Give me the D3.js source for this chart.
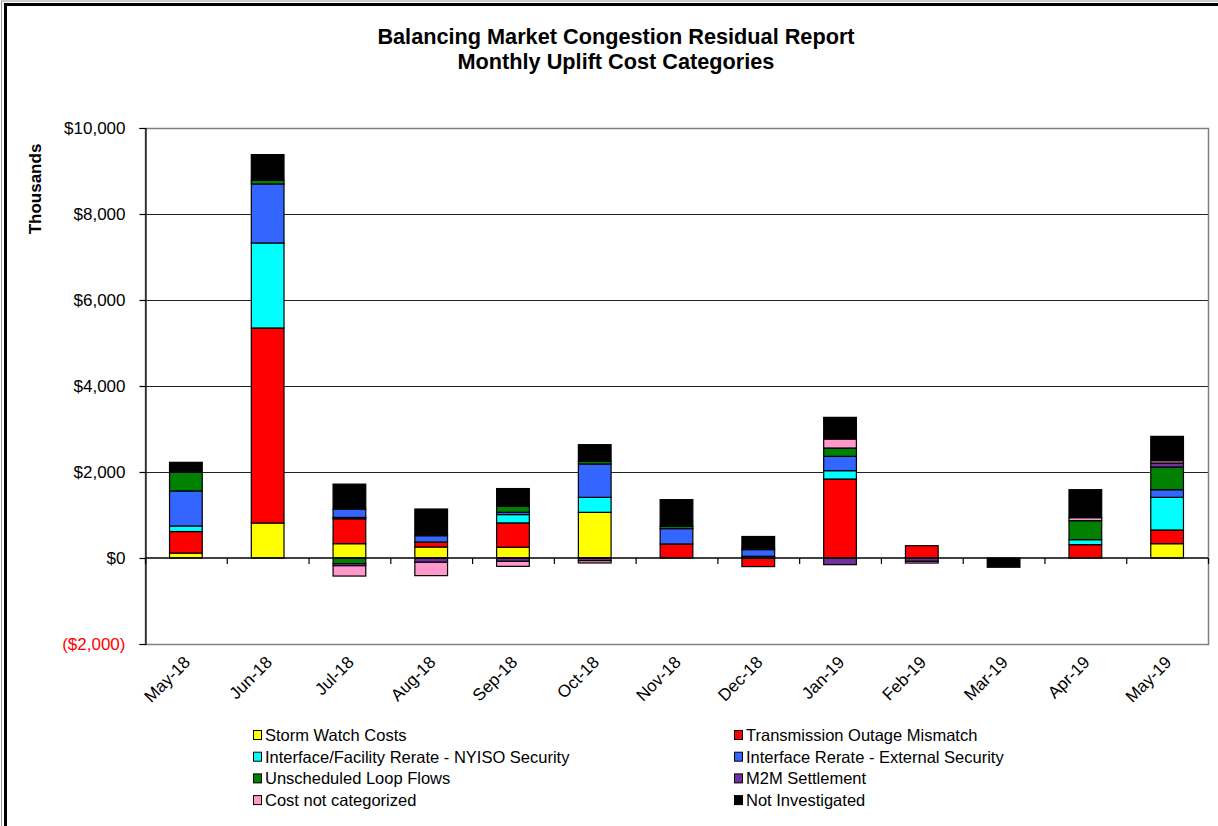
<!DOCTYPE html>
<html>
<head>
<meta charset="utf-8">
<script src="https://cdnjs.cloudflare.com/ajax/libs/d3/7.8.5/d3.min.js"></script>
<style>
  body { margin: 0; background: #fff; }
  text { font-family: "Liberation Sans", Arial, sans-serif; }
</style>
</head>
<body>
<svg class="chart"></svg>
<script>
// months on the x axis
var months = ["May-18", "Jun-18", "Jul-18", "Aug-18", "Sep-18", "Oct-18", "Nov-18",
              "Dec-18", "Jan-19", "Feb-19", "Mar-19", "Apr-19", "May-19"];

// values in $ thousands, one array per cost category
var stormWatch   = [115, 814, 333, 256, 250, 1062, 0, 0, 0, 0, 0, 0, 333];
var transOutage  = [500, 4535, 580, 116, 566, 0, 326, -200, 1837, 286, 0, 310, 318];
var nyisoRerate  = [130, 1977, 30, 0, 194, 349, 0, 40, 194, 0, 0, 116, 760];
var extRerate    = [815, 1372, 195, 147, 54, 775, 357, 155, 333, 0, 0, 0, 178];
var loopFlows    = [435, 85, -130, 0, 140, 62, 54, 35, 194, 0, 0, 442, 527];
var m2m          = [0, 0, -50, -100, -78, -62, 0, 0, -155, -78, 0, 0, 93];
var notCat       = [0, 0, -240, -310, -116, -54, 0, 0, 209, -40, 0, 70, 54];
var notInv       = [230, 598, 580, 620, 411, 388, 620, 270, 504, 0, -215, 651, 566];

var seriesNames = ["Storm Watch Costs", "Transmission Outage Mismatch",
  "Interface/Facility Rerate - NYISO Security", "Interface Rerate - External Security",
  "Unscheduled Loop Flows", "M2M Settlement", "Cost not categorized", "Not Investigated"];
var seriesColors = ["#ffff00", "#ff0000", "#00ffff", "#3366ff", "#008000", "#7030a0", "#ff99cc", "#000000"];
var seriesValues = [stormWatch, transOutage, nyisoRerate, extRerate, loopFlows, m2m, notCat, notInv];

var yTicks = [-2000, 0, 2000, 4000, 6000, 8000, 10000];

var W = 1218, H = 826;
var plotLeft = 145, plotRight = 1208, plotTop = 128, plotBottom = 644;

var svg = d3.select(".chart").attr("width", W).attr("height", H);
svg.append("rect").attr("width", W).attr("height", H).attr("fill", "#fff");

// outer frame of the chart object
svg.append("rect").attr("x", 1.5).attr("y", 1).attr("width", W + 20).attr("height", H + 20)
  .attr("fill", "none").attr("stroke", "#999").attr("stroke-width", 1);
svg.append("rect").attr("x", 5.5).attr("y", 4.5).attr("width", W + 20).attr("height", H + 20)
  .attr("fill", "none").attr("stroke", "#000").attr("stroke-width", 3);

// title
svg.append("text").attr("x", 616).attr("y", 44).attr("text-anchor", "middle")
  .style("font-size", "21.7px").style("font-weight", "bold").text("Balancing Market Congestion Residual Report");
svg.append("text").attr("x", 616).attr("y", 69).attr("text-anchor", "middle")
  .style("font-size", "21.7px").style("font-weight", "bold").text("Monthly Uplift Cost Categories");

var x = d3.scaleBand().domain(months).range([plotLeft, plotRight]).paddingInner(0.6).paddingOuter(0.3);
var y = d3.scaleLinear().domain([-2000, 10000]).range([plotBottom, plotTop]);

// gridlines
svg.append("g").selectAll("line").data(yTicks.filter(function (d) { return d > 0 && d < 10000; }))
  .enter().append("line")
  .attr("x1", plotLeft).attr("x2", plotRight)
  .attr("y1", function (d) { return Math.round(y(d)) + 0.5; })
  .attr("y2", function (d) { return Math.round(y(d)) + 0.5; })
  .attr("stroke", "#222").attr("stroke-width", 1.2);

// plot area border
svg.append("rect").attr("x", plotLeft + 0.5).attr("y", plotTop + 0.5)
  .attr("width", plotRight - plotLeft).attr("height", plotBottom - plotTop)
  .attr("fill", "none").attr("stroke", "#808080").attr("stroke-width", 1.5);

// y axis
var yAxis = d3.axisLeft(y).tickValues(yTicks).tickSize(6).tickPadding(14)
  .tickFormat(function (d) {
    var s = "$" + d3.format(",")(Math.abs(d));
    return d < 0 ? "(" + s + ")" : s;
  });
var yg = svg.append("g").attr("transform", "translate(" + (plotLeft + 0.5) + ",0)").call(yAxis);
yg.select(".domain").attr("stroke", "#000").attr("stroke-width", 1.2);
yg.selectAll(".tick line").attr("stroke", "#000").attr("stroke-width", 1.2);
yg.selectAll(".tick text")
  .style("font-size", "17px").style("font-family", "'Liberation Sans', Arial, sans-serif")
  .attr("fill", function (d) { return d < 0 ? "#ff0000" : "#000"; });

svg.append("text").attr("transform", "translate(41,189) rotate(-90)")
  .attr("text-anchor", "middle").style("font-size", "17px").style("font-weight", "bold")
  .text("Thousands");

// bars
var rows = months.map(function (m, i) {
  var r = { month: m };
  seriesNames.forEach(function (n, k) { r[n] = seriesValues[k][i]; });
  return r;
});
var stack = d3.stack().keys(seriesNames).offset(d3.stackOffsetDiverging);
var layers = stack(rows);

svg.append("g").selectAll("g").data(layers).enter().append("g")
  .attr("fill", function (d, i) { return seriesColors[i]; })
  .selectAll("rect")
  .data(function (d) { return d.filter(function (p) { return p[1] !== p[0]; }); })
  .enter().append("rect")
  .attr("x", function (d) { return x(d.data.month); })
  .attr("width", x.bandwidth())
  .attr("y", function (d) { return y(Math.max(d[0], d[1])); })
  .attr("height", function (d) { return Math.abs(y(d[0]) - y(d[1])); })
  .attr("stroke", "#000").attr("stroke-width", 1.2);

// zero line and category ticks
svg.append("line").attr("x1", plotLeft).attr("x2", plotRight)
  .attr("y1", y(0)).attr("y2", y(0)).attr("stroke", "#000").attr("stroke-width", 1.5);
var step = x.step();
svg.append("g").selectAll("line").data(d3.range(months.length + 1)).enter().append("line")
  .attr("x1", function (i) { return plotLeft + i * step + 0.5; })
  .attr("x2", function (i) { return plotLeft + i * step + 0.5; })
  .attr("y1", y(0)).attr("y2", y(0) + 6)
  .attr("stroke", "#000").attr("stroke-width", 1.2);

// month labels
svg.append("g").selectAll("text").data(months).enter().append("text")
  .attr("transform", function (d) {
    return "translate(" + (x(d) + x.bandwidth() / 2 - 3) + ",655) rotate(-45)";
  })
  .attr("text-anchor", "end").attr("dy", "0.7em")
  .style("font-size", "17px").text(function (d) { return d; });

// legend
var legend = svg.append("g").selectAll("g").data(seriesNames).enter().append("g")
  .attr("transform", function (d, i) {
    var col = i % 2, row = Math.floor(i / 2);
    return "translate(" + (col === 0 ? 253 : 734) + "," + (735 + row * 21.7) + ")";
  });
legend.append("rect").attr("x", 0.5).attr("y", -4.5).attr("width", 8).attr("height", 9)
  .attr("fill", function (d, i) { return seriesColors[i]; })
  .attr("stroke", "#000").attr("stroke-width", 1);
legend.append("text").attr("x", 12).attr("y", 0).attr("dy", "0.36em")
  .style("font-size", "16.5px").text(function (d) { return d; });
</script>
</body>
</html>
